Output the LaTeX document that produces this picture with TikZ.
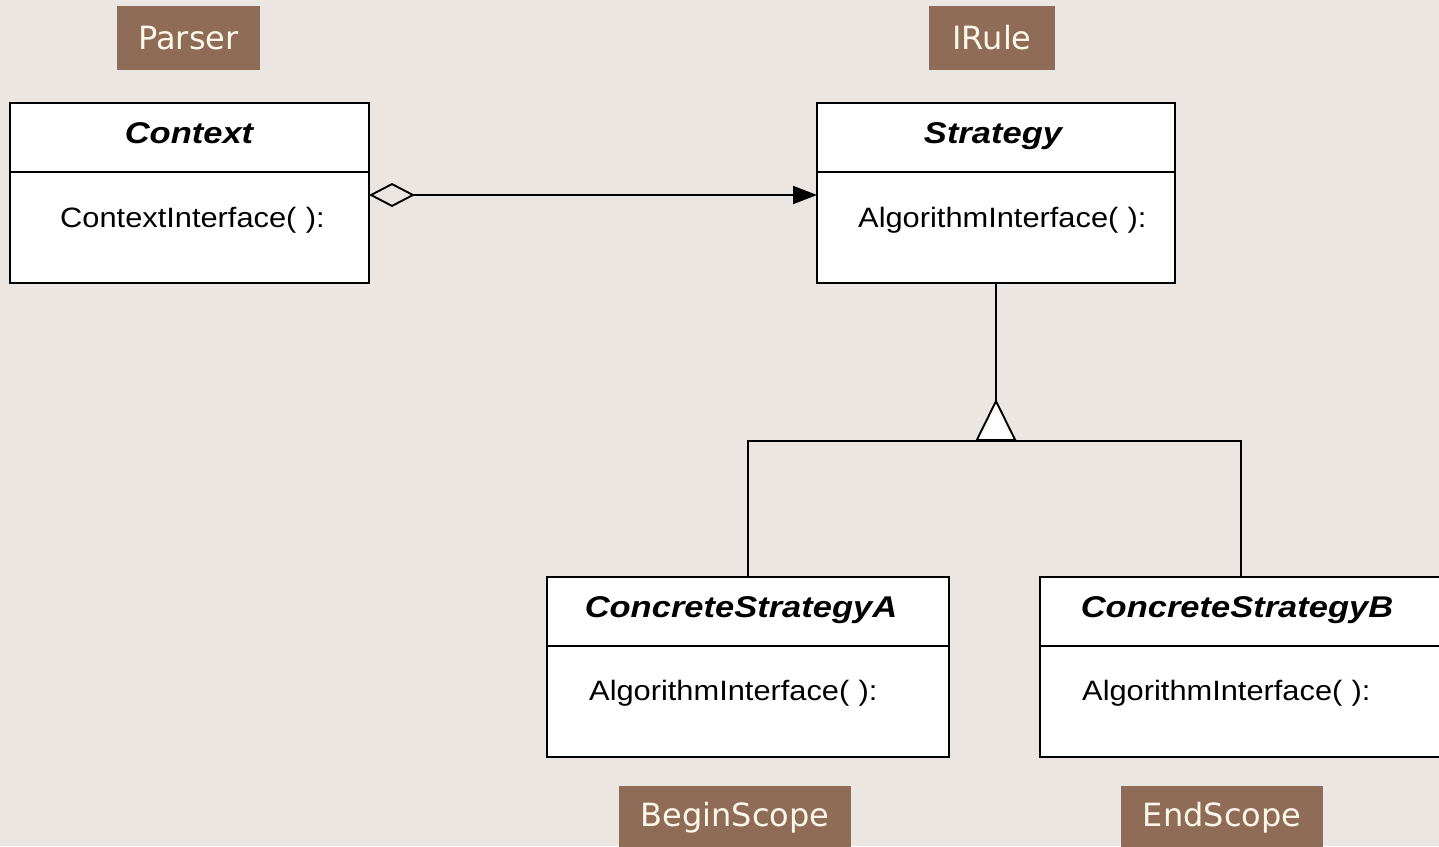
\documentclass[tikz,border=0pt]{standalone}
\usepackage{fontspec}
\usetikzlibrary{arrows.meta,calc}
\newfontfamily\umlfont{Liberation Sans}[FakeStretch=1.10]
\newfontfamily\umlheadfont{Liberation Sans}[FakeStretch=1.15]
\newfontfamily\tagfont{DejaVu Sans}
\definecolor{bgcol}{HTML}{EBE6E2}
\definecolor{tagfill}{HTML}{8E6C57}
\definecolor{tagtext}{HTML}{FFF8E8}
\begin{document}
\begin{tikzpicture}[x=1pt,y=-1pt,
  umlline/.style={line width=1.9pt,black},
  classpart/.style={umlline,draw,fill=white,inner sep=0pt,outer sep=0pt,anchor=north west,minimum width=402pt},
  headpart/.style={classpart,minimum height=69pt},
  bodypart/.style={classpart,minimum height=111pt},
  headtext/.style={anchor=base,inner sep=0pt,font=\umlheadfont\bfseries\itshape\fontsize{30}{32}\selectfont},
  methtext/.style={anchor=base west,inner sep=0pt,font=\umlfont\fontsize{28}{30}\selectfont},
  tag/.style={fill=tagfill,text=tagtext,inner sep=0pt,minimum height=64pt,
    font=\tagfont\fontsize{32}{34}\selectfont},
  aggregation/.style={umlline,{Diamond[open,length=46pt,width=24pt]}-{Triangle[length=24pt,width=18pt]}},
  generalization/.style={umlline,-{Triangle[reversed,open,fill=white,length=42pt,width=41pt]}}
]
% page background and frame
\fill[bgcol] (0,0) rectangle (1439,846);
\useasboundingbox (0,0) rectangle (1439,846);

% context class
\node[headpart,minimum width=359pt] (ctxhead) at (10,103) {};
\node[bodypart,minimum width=359pt] (ctxbody) at (10,172) {};
\node[headtext] (ctxname) at (189,143) {Context};
\node[methtext] (ctxop) at (60,227) {ContextInterface(\,\,):};

% strategy interface
\node[headpart,minimum width=358pt] (strhead) at (817,103) {};
\node[bodypart,minimum width=358pt] (strbody) at (817,172) {};
\node[headtext] (strname) at (993,143) {Strategy};
\node[methtext] (strop) at (858,227) {AlgorithmInterface(\,\,):};

% concrete strategies
\node[headpart] (ahead) at (547,577) {};
\node[bodypart] (abody) at (547,646) {};
\node[headtext] (aname) at (741,617) {ConcreteStrategyA};
\node[methtext] (aop) at (589,700) {AlgorithmInterface(\,\,):};

\node[headpart] (bhead) at (1040,577) {};
\node[bodypart] (bbody) at (1040,646) {};
\node[headtext] (bname) at (1237,617) {ConcreteStrategyB};
\node[methtext] (bop) at (1082,700) {AlgorithmInterface(\,\,):};

% aggregation from context to strategy
\draw[aggregation] ($(ctxbody.north east)+(0,23)$) -- ($(strbody.north west)+(0,23)$);

% generalization tree
\coordinate (junction) at (strbody.south |- 0,441);
\draw[umlline] (ahead.north) |- (junction) -| (bhead.north);
\draw[generalization] (strbody.south) -- (junction);

% role tags
\node[tag,minimum width=143pt] (tparser) at (188.5,38) {Parser};
\node[tag,minimum width=126pt] (tirule) at (992,38) {IRule};
\node[tag,minimum width=232pt] (tbegin) at (735,818) {BeginScope};
\node[tag,minimum width=202pt] (tend) at (1222,818) {EndScope};
\end{tikzpicture}
\end{document}
